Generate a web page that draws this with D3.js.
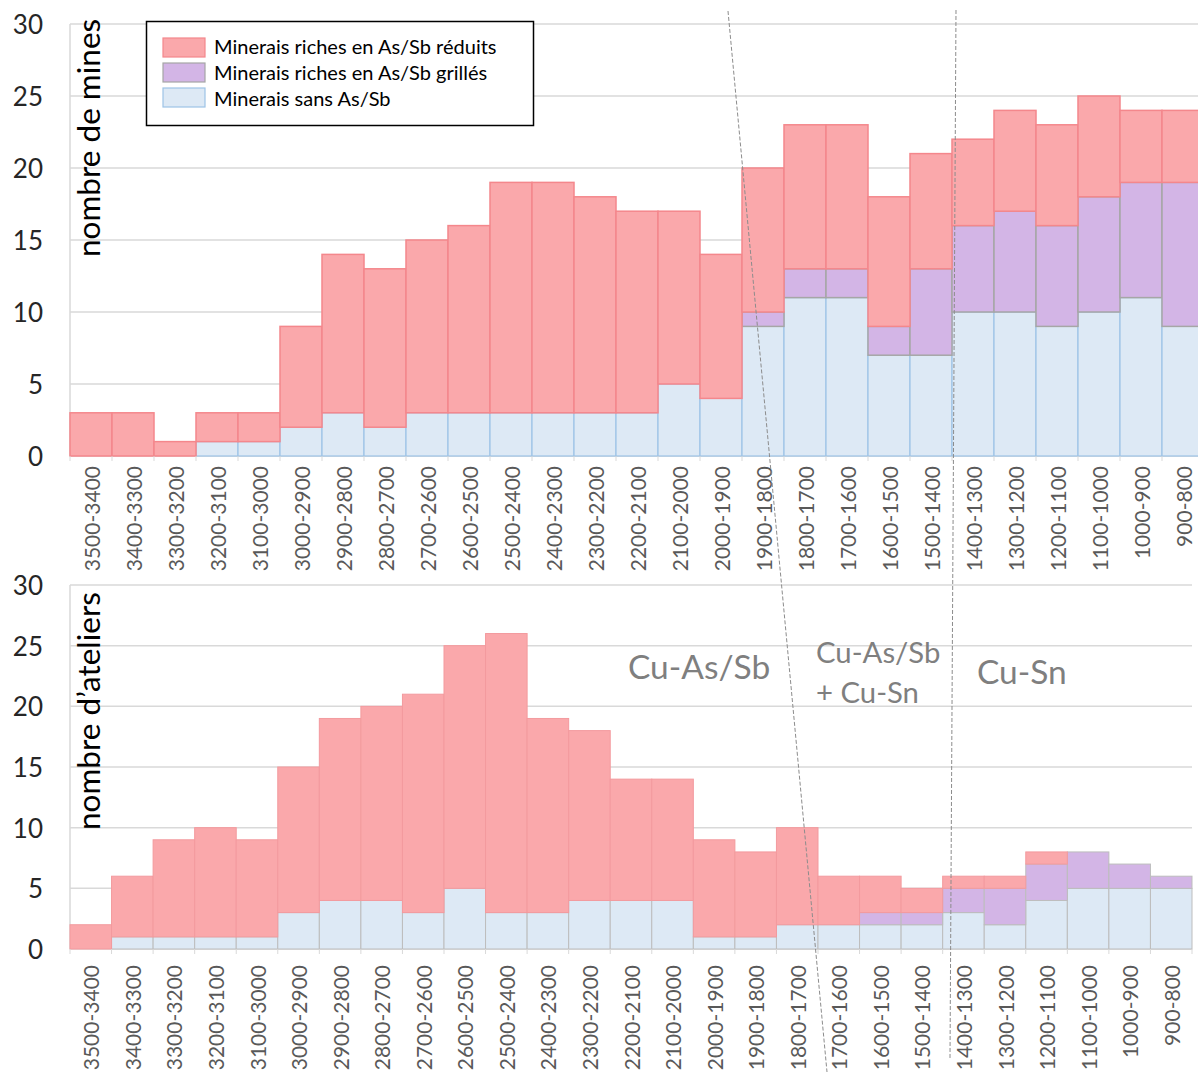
<!DOCTYPE html>
<html><head><meta charset="utf-8">
<script src="https://cdn.jsdelivr.net/npm/d3@7"></script>
<style>body{margin:0;background:#fff} text{font-family:Lato, "Open Sans", sans-serif}</style>
</head><body><svg id="c" width="1198" height="1072"></svg>
<script>
// ---------- data ----------
const periods = ["3500-3400","3400-3300","3300-3200","3200-3100","3100-3000","3000-2900","2900-2800","2800-2700","2700-2600","2600-2500","2500-2400","2400-2300","2300-2200","2200-2100","2100-2000","2000-1900","1900-1800","1800-1700","1700-1600","1600-1500","1500-1400","1400-1300","1300-1200","1200-1100","1100-1000","1000-900","900-800"];

// nombre de mines
const minesSans    = [0,0,0,1,1,2,3,2,3,3,3,3,3,3,5,4,9,11,11,7,7,10,10,9,10,11,9];
const minesGrilles = [0,0,0,0,0,0,0,0,0,0,0,0,0,0,0,0,1,2,2,2,6,6,7,7,8,8,10];
const minesReduits = [3,3,1,2,2,7,11,11,12,13,16,16,15,14,12,10,10,10,10,9,8,6,7,7,7,5,5];

// nombre d'ateliers
const ateliersSans    = [0,1,1,1,1,3,4,4,3,5,3,3,4,4,4,1,1,2,2,2,2,3,2,4,5,5,5];
const ateliersGrilles = [0,0,0,0,0,0,0,0,0,0,0,0,0,0,0,0,0,0,0,1,1,2,3,3,3,2,1];
const ateliersReduits = [2,5,8,9,8,12,15,16,18,20,23,16,14,10,10,8,7,8,4,3,2,1,1,1,0,0,0];

const yTicks = [0,5,10,15,20,25,30];
const seriesKeys = ["sans","grilles","reduits"];
const legendKeys = ["reduits","grilles","sans"];
const legendLabels = ["Minerais riches en As/Sb réduits","Minerais riches en As/Sb grillés","Minerais sans As/Sb"];
const periodLabels = ["Cu-As/Sb","Cu-As/Sb","+ Cu-Sn","Cu-Sn"];

// ---------- drawing ----------
const svg = d3.select("#c");
svg.append("rect").attr("width",1198).attr("height",1072).attr("fill","#fff");

const fills = {reduits:"#faa8ab", grilles:"#d3b5e6", sans:"#dde9f5"};

function panel(opt){
  const rows = periods.map((p,i)=>({period:p, sans:opt.sans[i], grilles:opt.grilles[i], reduits:opt.reduits[i]}));
  const stacked = d3.stack().keys(seriesKeys)(rows);
  const x = d3.scaleBand().domain(periods).range([opt.x0, opt.x1]).padding(0);
  const y = d3.scaleLinear().domain([0,30]).range([opt.y0, opt.y1]);
  const g = svg.append("g");

  // grid
  g.selectAll("line.grid").data(yTicks).join("line")
    .attr("x1", opt.x0).attr("x2", Math.min(opt.x1, 1198))
    .attr("y1", d=>y(d)).attr("y2", d=>y(d))
    .attr("stroke","#d9d9d9").attr("stroke-width",1.5);
  g.append("line").attr("x1",opt.x0).attr("x2",opt.x0).attr("y1",y(30)).attr("y2",y(0))
    .attr("stroke","#d9d9d9").attr("stroke-width",1.5);

  // bars
  stacked.forEach(layer=>{
    const k = layer.key;
    g.append("g").selectAll("rect").data(layer.filter(d=>d[1]>d[0])).join("rect")
      .attr("x", d=>x(d.data.period)).attr("width", x.bandwidth())
      .attr("y", d=>y(d[1])).attr("height", d=>y(d[0])-y(d[1]))
      .attr("fill", fills[k]).attr("stroke", opt.strokes[k]).attr("stroke-width", opt.sw[k]);
  });

  // x ticks
  const edges = periods.map(p=>x(p)).concat([x(periods[periods.length-1])+x.bandwidth()]);
  g.selectAll("line.tk").data(edges).join("line")
    .attr("x1",d=>d).attr("x2",d=>d).attr("y1",y(0)).attr("y2",y(0)+5)
    .attr("stroke","#d9d9d9").attr("stroke-width",1);

  // x labels
  g.selectAll("text.xl").data(periods).join("text")
    .attr("transform", d=>`translate(${x(d)+x.bandwidth()/2},${y(0)+opt.labOff}) rotate(-90)`)
    .attr("text-anchor","end").attr("dominant-baseline","central")
    .attr("font-size",21).attr("fill","#595959").text(d=>d);

  // y labels
  g.selectAll("text.yl").data(yTicks).join("text")
    .attr("x",43).attr("y",d=>y(d)).attr("text-anchor","end").attr("dominant-baseline","central")
    .attr("font-size",26).attr("fill","#262626").text(d=>d);

  // title
  g.append("text").attr("transform",`translate(100,${opt.titleY}) rotate(-90)`)
    .attr("font-size",31.5).attr("fill","#000").text(opt.title);
  return {x,y};
}

panel({sans:minesSans, grilles:minesGrilles, reduits:minesReduits,
  x0:70, x1:1204, y0:456, y1:24, labOff:10, title:"nombre de mines", titleY:257,
  strokes:{reduits:"#f4878c", grilles:"#a6a6a6", sans:"#9dc3e6"},
  sw:{reduits:1.5, grilles:1.5, sans:1.2}});

panel({sans:ateliersSans, grilles:ateliersGrilles, reduits:ateliersReduits,
  x0:70, x1:1192, y0:949, y1:585, labOff:16, title:"nombre d’ateliers", titleY:830,
  strokes:{reduits:"#f39a9e", grilles:"#bdbdbd", sans:"#bdbdbd"},
  sw:{reduits:1, grilles:1, sans:1}});

// legend
const lg = svg.append("g");
lg.append("rect").attr("x",146.5).attr("y",21.5).attr("width",387).attr("height",104)
  .attr("fill","#fff").attr("stroke","#000").attr("stroke-width",1.5);
const lstroke = {reduits:"#f4878c", grilles:"#a6a6a6", sans:"#9dc3e6"};
legendKeys.forEach((k,i)=>{
  lg.append("rect").attr("x",163).attr("y",38+i*25).attr("width",42).attr("height",19)
    .attr("fill",fills[k]).attr("stroke",lstroke[k]).attr("stroke-width",1.2);
  lg.append("text").attr("x",214).attr("y",54+i*26).attr("font-size",20).attr("fill","#000").text(legendLabels[i]);
});

// period annotations
const ann = svg.append("g").attr("fill","#7f7f7f");
ann.append("text").attr("x",628).attr("y",679).attr("font-size",33.5).text(periodLabels[0]);
ann.append("text").attr("x",816).attr("y",663).attr("font-size",29.3).text(periodLabels[1]);
ann.append("text").attr("x",816).attr("y",703).attr("font-size",29.3).text(periodLabels[2]);
ann.append("text").attr("x",977).attr("y",684).attr("font-size",33.5).text(periodLabels[3]);

// dashed separators
svg.append("line").attr("x1",728).attr("y1",11).attr("x2",827).attr("y2",1072)
  .attr("stroke","#8c8c8c").attr("stroke-width",1).attr("stroke-dasharray","4,2");
svg.append("line").attr("x1",956).attr("y1",10).attr("x2",950).attr("y2",1058)
  .attr("stroke","#8c8c8c").attr("stroke-width",1).attr("stroke-dasharray","4,2");
</script></body></html>
